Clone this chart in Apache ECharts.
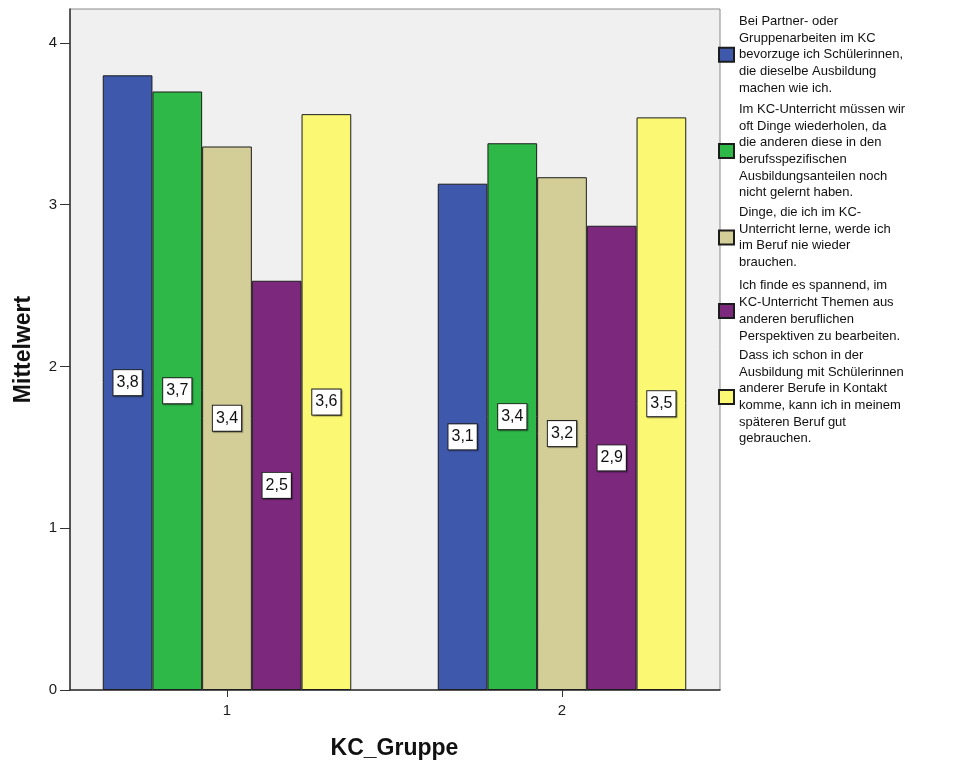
<!DOCTYPE html>
<html>
<head>
<meta charset="utf-8">
<script src="https://cdn.jsdelivr.net/npm/echarts@6/dist/echarts.min.js"></script>
<style>
  html, body { margin: 0; padding: 0; background: #ffffff; }
  #chart { width: 957px; height: 763px; }
</style>
</head>
<body>
<div id="chart"></div>
<script>
// Groups on the x axis
const groups = ['1', '2'];

// Statement texts (legend entries), wrapped as shown
const statements = [
  'Bei Partner- oder\nGruppenarbeiten im KC\nbevorzuge ich Schülerinnen,\ndie dieselbe Ausbildung\nmachen wie ich.',
  'Im KC-Unterricht müssen wir\noft Dinge wiederholen, da\ndie anderen diese in den\nberufsspezifischen\nAusbildungsanteilen noch\nnicht gelernt haben.',
  'Dinge, die ich im KC-\nUnterricht lerne, werde ich\nim Beruf nie wieder\nbrauchen.',
  'Ich finde es spannend, im\nKC-Unterricht Themen aus\nanderen beruflichen\nPerspektiven zu bearbeiten.',
  'Dass ich schon in der\nAusbildung mit Schülerinnen\nanderer Berufe in Kontakt\nkomme, kann ich in meinem\nspäteren Beruf gut\ngebrauchen.'
];

// Mean values per statement, one entry per group
const meansPartner   = [3.80, 3.13];
const meansRepeat    = [3.70, 3.38];
const meansNeverUse  = [3.36, 3.17];
const meansExciting  = [2.53, 2.87];
const meansContact   = [3.56, 3.54];

// Y axis tick values
const yTicks = [0, 1, 2, 3, 4];

const seriesValues = [meansPartner, meansRepeat, meansNeverUse, meansExciting, meansContact];
const colors = ['#3e58ac', '#2eb848', '#d3ce97', '#7b287d', '#fbf873'];
// vertical placement of each legend entry
const legendTops = [13, 101, 204, 277.5, 347];

const Y_MAX = 4.21;
const fmt = v => v.toFixed(1).replace('.', ',');

const chart = echarts.init(document.getElementById('chart'), null, { renderer: 'canvas' });

chart.setOption({
  animation: false,
  textStyle: { fontFamily: 'Liberation Sans, Arial, sans-serif' },
  grid: [
    // frame + background with value axis
    { left: 70, right: 237, top: 9, bottom: 73, outerBoundsMode: 'none', containLabel: false,
      show: true, backgroundColor: '#f0f0f0', borderColor: '#8a8a8a', borderWidth: 1 },
    // bar layout grid (group centres at the x ticks)
    { left: 59.5, right: 227.5, top: 9, bottom: 73, outerBoundsMode: 'none', containLabel: false }
  ],
  xAxis: [
    { gridIndex: 0, type: 'category', data: groups, axisLine: { show: true, lineStyle: { color: '#333', width: 1.5 } },
      axisTick: { show: false }, axisLabel: { show: false }, splitLine: { show: false } },
    { gridIndex: 1, type: 'category', data: groups, axisLine: { show: false },
      axisTick: { show: true, alignWithLabel: true, length: 7, lineStyle: { color: '#333' } },
      axisLabel: { color: '#1a1a1a', fontSize: 15, margin: 13 },
      name: 'KC_Gruppe', nameLocation: 'middle', nameGap: 47,
      nameTextStyle: { fontSize: 23, fontWeight: 'bold', color: '#111' } }
  ],
  yAxis: [
    { gridIndex: 0, type: 'value', min: 0, max: Y_MAX,
      axisLine: { show: true, lineStyle: { color: '#333', width: 1.5 } },
      axisTick: { show: true, length: 10, customValues: yTicks, lineStyle: { color: '#333' } },
      axisLabel: { customValues: yTicks, color: '#1a1a1a', fontSize: 15, margin: 13 },
      splitLine: { show: false },
      name: 'Mittelwert', nameLocation: 'middle', nameGap: 35,
      nameTextStyle: { fontSize: 23, fontWeight: 'bold', color: '#111' } },
    { gridIndex: 1, type: 'value', min: 0, max: Y_MAX, show: false }
  ],
  legend: statements.map((name, i) => ({
    orient: 'vertical', left: 718, top: legendTops[i], padding: 0,
    icon: 'rect', itemWidth: 15, itemHeight: 14,
    data: [name],
    selectedMode: false,
    textStyle: { fontSize: 13, lineHeight: 16.7, color: '#111' }
  })),
  series: seriesValues.map((vals, i) => ({
    name: statements[i],
    type: 'bar',
    xAxisIndex: 1, yAxisIndex: 1,
    data: vals,
    barWidth: 49.7,
    barGap: '0%',
    itemStyle: { color: colors[i], borderColor: '#1c1c1c', borderWidth: 1 },
    label: {
      show: true, position: 'inside',
      formatter: p => fmt(p.value),
      color: '#111', fontSize: 16,
      backgroundColor: '#ffffff', borderColor: '#222', borderWidth: 1,
      padding: [5, 3, 4, 3],
      shadowColor: 'rgba(0,0,0,0.35)', shadowOffsetX: 1, shadowOffsetY: 1, shadowBlur: 1
    }
  }))
});
</script>
</body>
</html>
